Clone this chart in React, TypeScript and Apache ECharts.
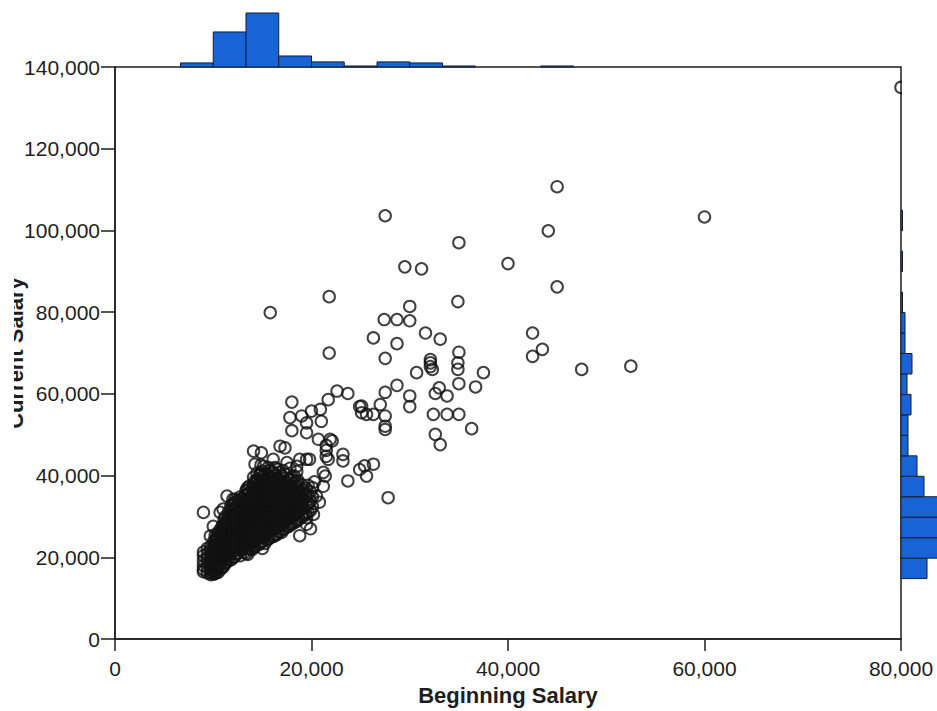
import React, { useEffect, useRef } from "react";
import * as echarts from "echarts";

// ---- Axis ticks ----
const xTicks = [0, 20000, 40000, 60000, 80000];
const yTicks = [0, 20000, 40000, 60000, 80000, 100000, 120000, 140000];

// ---- Marginal histograms: [binStart, binEnd, count] ----
const topHistBins: [number, number, number][] = [
  [6667, 10000, 16],
  [10000, 13333, 137],
  [13333, 16667, 211],
  [16667, 20000, 43],
  [20000, 23333, 20],
  [23333, 26667, 4],
  [26667, 30000, 20],
  [30000, 33333, 16],
  [33333, 36667, 4],
  [43333, 46667, 4],
];

const rightHistBins: [number, number, number][] = [
  [15000, 20000, 52],
  [20000, 25000, 90],
  [25000, 30000, 85],
  [30000, 35000, 78],
  [35000, 40000, 46],
  [40000, 45000, 32],
  [45000, 50000, 14],
  [50000, 55000, 14],
  [55000, 60000, 20],
  [60000, 65000, 12],
  [65000, 70000, 22],
  [70000, 75000, 8],
  [75000, 80000, 8],
  [80000, 85000, 3],
  [90000, 95000, 3],
  [100000, 105000, 3],
];

// ---- Scatter: dense cluster, [beginning salary, current salaries...] ----
const clusterColumnsA: [number, number[]][] = [
  [9000, [16500, 17100, 18000, 19200, 20400, 21300]],
  [9750, [15750, 16200, 16950, 17700, 18750, 19650, 20850, 21900, 22650]],
  [10200, [16050, 16800, 17400, 18150, 19200, 20100, 21000, 22350, 23100, 24300, 25500]],
  [10500, [16350, 17850, 19050, 20550, 21750, 23250, 24600, 26100]],
  [10950, [17550, 19350, 20700, 22050, 23550, 24900, 26400, 27750]],
  [11250, [18600, 20250, 21600, 22800, 24150, 25650, 27000, 28500, 30000]],
  [11550, [19500, 21150, 23400, 25050, 26700, 28200, 29850, 31200]],
  [12000, [19950, 21450, 22500, 23700, 24750, 25800, 26850, 27900, 29100, 30450, 31650, 33000, 34200]],
  [12300, [20850, 22350, 24000, 25350, 26550, 28050, 29400, 30900, 32400]],
  [12750, [20400, 22050, 23100, 24450, 25950, 27150, 28650, 30150, 31500, 33150, 34800]],
  [13200, [21300, 22950, 24600, 26250, 27600, 29250, 30600, 32100, 33600, 35100]],
  [13500, [20700, 22200, 23850, 25200, 26550, 28050, 29550, 31050, 32550, 34050, 35550, 37050]],
  [13950, [21900, 23550, 25050, 26850, 28350, 29850, 31350, 33300, 35250, 36900]],
  [14250, [22650, 24150, 25800, 27300, 28950, 30300, 31800, 33450, 35100, 37200, 38700]],
  [14700, [23250, 24900, 26400, 28050, 29700, 31200, 32850, 34500, 36300, 38100, 40200]],
  [15000, [22200, 23850, 25500, 27150, 28650, 30150, 31650, 33150, 34650, 36150, 37800, 39450, 41100]],
  [15450, [24300, 25950, 27600, 29250, 30750, 32400, 34050, 35700, 37350, 39000]],
  [15750, [24750, 26400, 28200, 29850, 31350, 32850, 34350, 35850, 37650, 39300, 41250]],
  [16200, [25200, 27000, 28800, 30450, 32100, 33750, 35400, 37050, 38550, 40500]],
  [16500, [25650, 27450, 29100, 30900, 32700, 34350, 36000, 37500, 39150]],
  [16950, [26100, 27900, 29700, 31500, 33300, 35100, 36750, 38400, 40050]],
  [17250, [27000, 28950, 30750, 32550, 34350, 36150, 37950]],
  [17700, [27600, 29550, 31350, 33150, 35100, 36900, 38850]],
  [18000, [28200, 30000, 31950, 33900, 35700, 37500, 39600]],
  [18450, [28800, 30750, 32700, 34650, 36600, 38550]],
  [18750, [29400, 31500, 33600, 35550, 37350]],
  [19200, [30150, 32250, 34500, 36450]],
  [19650, [31050, 33150, 35400, 37650]],
  [20100, [32400, 34800, 37050]],
];

const clusterColumnsB: [number, number[]][] = [
  [9400, [16200, 17400, 18600, 19800, 21000, 22200]],
  [10050, [15900, 16650, 17550, 18600, 19650, 20700, 21750, 22950, 24000]],
  [10350, [16500, 17250, 18450, 19800, 21150, 22650, 23850, 25050]],
  [10750, [17100, 18300, 19950, 21300, 22800, 24150, 25650, 27000]],
  [11100, [18000, 19650, 21150, 22500, 23850, 25350, 26700, 28050, 29400]],
  [11400, [18900, 20550, 22200, 23700, 25200, 26400, 27750, 29250]],
  [11800, [19350, 20850, 22650, 24300, 25500, 27300, 28650, 30000, 31500, 32700]],
  [12150, [20100, 21750, 23250, 24600, 26100, 27450, 28800, 30150, 31950, 33450]],
  [12550, [21000, 22500, 23850, 25050, 26550, 27900, 29250, 30750, 32250, 33750]],
  [12900, [21750, 23400, 25050, 26700, 28350, 29850, 31200, 32850, 34350]],
  [13350, [21000, 22650, 24300, 25800, 27150, 28800, 30300, 31950, 33450, 35250, 36450]],
  [13700, [22050, 23700, 25350, 27000, 28650, 30300, 31950, 33750, 35700, 37500]],
  [14100, [22350, 24000, 25650, 27450, 29100, 30750, 32400, 34200, 36000, 37800, 39600]],
  [14450, [22950, 24600, 26250, 27900, 29550, 31050, 32700, 34350, 36600, 38400, 40650]],
  [14850, [23700, 25350, 27000, 28650, 30450, 32100, 33900, 35700, 37350, 39000, 40650, 42600]],
  [15250, [23400, 25050, 26700, 28350, 30000, 31800, 33600, 35250, 36900, 38700, 40500]],
  [15600, [24450, 26100, 27750, 29400, 31200, 32850, 34650, 36450, 38250, 40050, 42000]],
  [16000, [25050, 26700, 28500, 30150, 31800, 33450, 35100, 36750, 38700, 40800]],
  [16350, [25500, 27300, 29250, 31050, 32850, 34650, 36450, 38250, 40050, 41700]],
  [16700, [26250, 28050, 29850, 31650, 33450, 35250, 37200, 39000, 40800]],
  [17100, [26700, 28500, 30300, 32100, 33900, 35700, 37650, 39300, 41250]],
  [17500, [27450, 29250, 31050, 32850, 34800, 36600, 38400, 40200]],
  [17850, [28050, 29850, 31800, 33600, 35400, 37200, 39150]],
  [18250, [28500, 30450, 32250, 34200, 36000, 37950, 39900]],
  [18600, [29100, 31050, 33000, 34950, 36900, 38850]],
  [19000, [29850, 31800, 33900, 35850, 37800]],
  [19450, [30600, 32700, 34950, 36900]],
  [19900, [31500, 33750, 36000]],
];

// ---- Scatter: medium-density points around the cluster ----
const spreadPoints: [number, number][] = [
  [9000, 31000], [10700, 31000], [10000, 27600], [9700, 25200], [11400, 35000],
  [12200, 34200], [13400, 36200], [14500, 39000], [11000, 31800],
  [14100, 46000], [14900, 45600], [14250, 42800], [15100, 42300], [16100, 44000],
  [17300, 46800], [17500, 43200], [19500, 44000], [16800, 47200], [18800, 44000],
  [19800, 44000], [18500, 42300],
  [18000, 58000], [22600, 60700], [23700, 60100], [21700, 58600], [20900, 56200],
  [20000, 55800], [17800, 54200], [19000, 54600], [19500, 52900], [21000, 53300],
  [18000, 51000], [19500, 50500], [20700, 48900], [21900, 48900], [22100, 48500],
  [25100, 57000], [25100, 55400], [23200, 45200], [23200, 43600],
  [21500, 47400], [21500, 46200], [21500, 44700], [21700, 44000],
  [24900, 41500], [25400, 42400], [26300, 42800], [25600, 39900],
  [23700, 38700], [21400, 39900], [20500, 35000], [19500, 29700], [19500, 28100],
  [18800, 25300], [27800, 34600],
  [21200, 37400], [21200, 40800], [20300, 38500], [20800, 33500], [20200, 30500],
  [19900, 27000], [18500, 41000], [17800, 41800], [16300, 42000],
];

// ---- Scatter: upper and outlying points ----
const upperPoints: [number, number][] = [
  [27400, 78200], [28700, 78200], [30000, 77900], [31600, 74900], [33100, 73400],
  [26300, 73700], [28700, 72300], [21800, 70000], [27500, 68700],
  [32100, 68400], [32100, 67600], [32100, 66700], [32300, 66000], [35000, 70200],
  [34900, 67600], [34900, 66000], [30700, 65200], [37500, 65200], [35000, 62500],
  [36700, 61700], [28700, 62100], [27500, 60400], [33000, 61500], [32600, 60100],
  [33800, 59500], [30000, 59500], [30000, 56900], [32400, 55000], [33800, 55000],
  [35000, 55000], [27000, 57400], [24900, 56900], [25600, 55000], [26300, 55000],
  [27500, 54600], [27500, 52100], [27500, 51300], [36300, 51500], [32600, 50100],
  [33100, 47600],
  [27500, 103600], [35000, 97000], [40000, 91900], [29500, 91100], [31200, 90600],
  [21800, 83800], [34900, 82600], [15800, 79900], [30000, 81400],
  [45000, 110700], [44100, 99900], [45000, 86200], [60000, 103300], [42500, 74900],
  [43500, 70900], [42500, 69200], [47500, 66000], [52500, 66800], [80000, 135000],
];

const FONT = '"Liberation Sans", Arial, Helvetica, sans-serif';
const INK = "#1e1e1e";
const BAR_FILL = "#1864d6";
const BAR_EDGE = "#141c33";

export default function App() {
  const ref = useRef<HTMLDivElement>(null);

  useEffect(() => {
    if (!ref.current) return;
    const chart = echarts.init(ref.current, undefined, { renderer: "svg" });

    const scatterData: [number, number][] = [];
    clusterColumnsA.forEach(([b, ys]) => ys.forEach((c) => scatterData.push([b, c])));
    clusterColumnsB.forEach(([b, ys]) => ys.forEach((c) => scatterData.push([b, c])));
    spreadPoints.forEach((p) => scatterData.push(p));
    upperPoints.forEach((p) => scatterData.push(p));

    const fmt = (v: number) => v.toLocaleString("en-US");

    const option: any = {
      animation: false,
      backgroundColor: "#ffffff",
      grid: [
        { left: 115, top: 67, width: 786, height: 573, show: true, borderColor: INK, borderWidth: 1.5, backgroundColor: "transparent" },
        { left: 115, top: 13, width: 786, height: 54 },
        { left: 901, top: 67, width: 36, height: 573 },
      ],
      xAxis: [
        {
          gridIndex: 0,
          type: "value",
          min: 0,
          max: 80000,
          interval: 20000,
          splitLine: { show: false },
          axisLine: { show: true, lineStyle: { color: INK, width: 1.5 } },
          axisTick: { show: true, length: 12, lineStyle: { color: INK, width: 1.5 } },
          axisLabel: { fontFamily: FONT, fontSize: 21, color: INK, margin: 19, formatter: (v: number) => fmt(v), customValues: xTicks },
          name: "Beginning Salary",
          nameLocation: "middle",
          nameGap: 38,
          nameTextStyle: { fontFamily: FONT, fontSize: 22, fontWeight: "bold", color: INK },
        },
        { gridIndex: 1, type: "value", min: 0, max: 80000, show: false },
        { gridIndex: 2, type: "value", min: 0, max: 72, show: false },
      ],
      yAxis: [
        {
          gridIndex: 0,
          type: "value",
          min: 0,
          max: 140000,
          interval: 20000,
          splitLine: { show: false },
          axisLine: { show: true, lineStyle: { color: INK, width: 1.5 } },
          axisTick: { show: true, length: 14, lineStyle: { color: INK, width: 1.5 } },
          axisLabel: { fontFamily: FONT, fontSize: 21, color: INK, margin: 15, formatter: (v: number) => fmt(v), customValues: yTicks },
        },
        { gridIndex: 1, type: "value", min: 0, max: 211, show: false },
        { gridIndex: 2, type: "value", min: 0, max: 140000, show: false },
      ],
      series: [
        {
          type: "scatter",
          xAxisIndex: 0,
          yAxisIndex: 0,
          data: scatterData,
          symbol: "circle",
          symbolSize: 11.5,
          itemStyle: { color: "rgba(0,0,0,0)", borderColor: "#111111", borderWidth: 2 },
          z: 3,
        },
        {
          type: "custom",
          xAxisIndex: 1,
          yAxisIndex: 1,
          data: topHistBins,
          encode: { x: [0, 1], y: 2 },
          renderItem: (params: any, api: any) => {
            const p0 = api.coord([api.value(0), 0]);
            const p1 = api.coord([api.value(1), api.value(2)]);
            return {
              type: "rect",
              shape: { x: p0[0], y: p1[1], width: p1[0] - p0[0], height: Math.max(p0[1] - p1[1], 1) },
              style: { fill: BAR_FILL, stroke: BAR_EDGE, lineWidth: 1 },
            };
          },
        },
        {
          type: "custom",
          xAxisIndex: 2,
          yAxisIndex: 2,
          data: rightHistBins,
          encode: { x: 2, y: [0, 1] },
          renderItem: (params: any, api: any) => {
            const p0 = api.coord([0, api.value(0)]);
            const p1 = api.coord([api.value(2), api.value(1)]);
            return {
              type: "rect",
              shape: { x: p0[0], y: p1[1], width: Math.max(p1[0] - p0[0], 1), height: p0[1] - p1[1] },
              style: { fill: BAR_FILL, stroke: BAR_EDGE, lineWidth: 1 },
            };
          },
        },
      ],
      graphic: [
        {
          type: "text",
          x: 26,
          y: 353,
          rotation: Math.PI / 2,
          z: 50,
          style: {
            text: "Current Salary",
            font: `bold 22px ${FONT}`,
            fill: INK,
            align: "center",
            verticalAlign: "bottom",
          },
        },
        { type: "rect", z: 100, shape: { x: 0, y: 240, width: 14, height: 230 }, style: { fill: "#ffffff" } },
        { type: "rect", z: 100, shape: { x: 902, y: 68, width: 35, height: 130 }, style: { fill: "#ffffff" } },
      ],
    };

    chart.setOption(option);
    return () => chart.dispose();
  }, []);

  return (
    <div
      ref={ref}
      style={{ position: "fixed", left: 0, top: 0, width: 937, height: 711, background: "#fff" }}
    />
  );
}
